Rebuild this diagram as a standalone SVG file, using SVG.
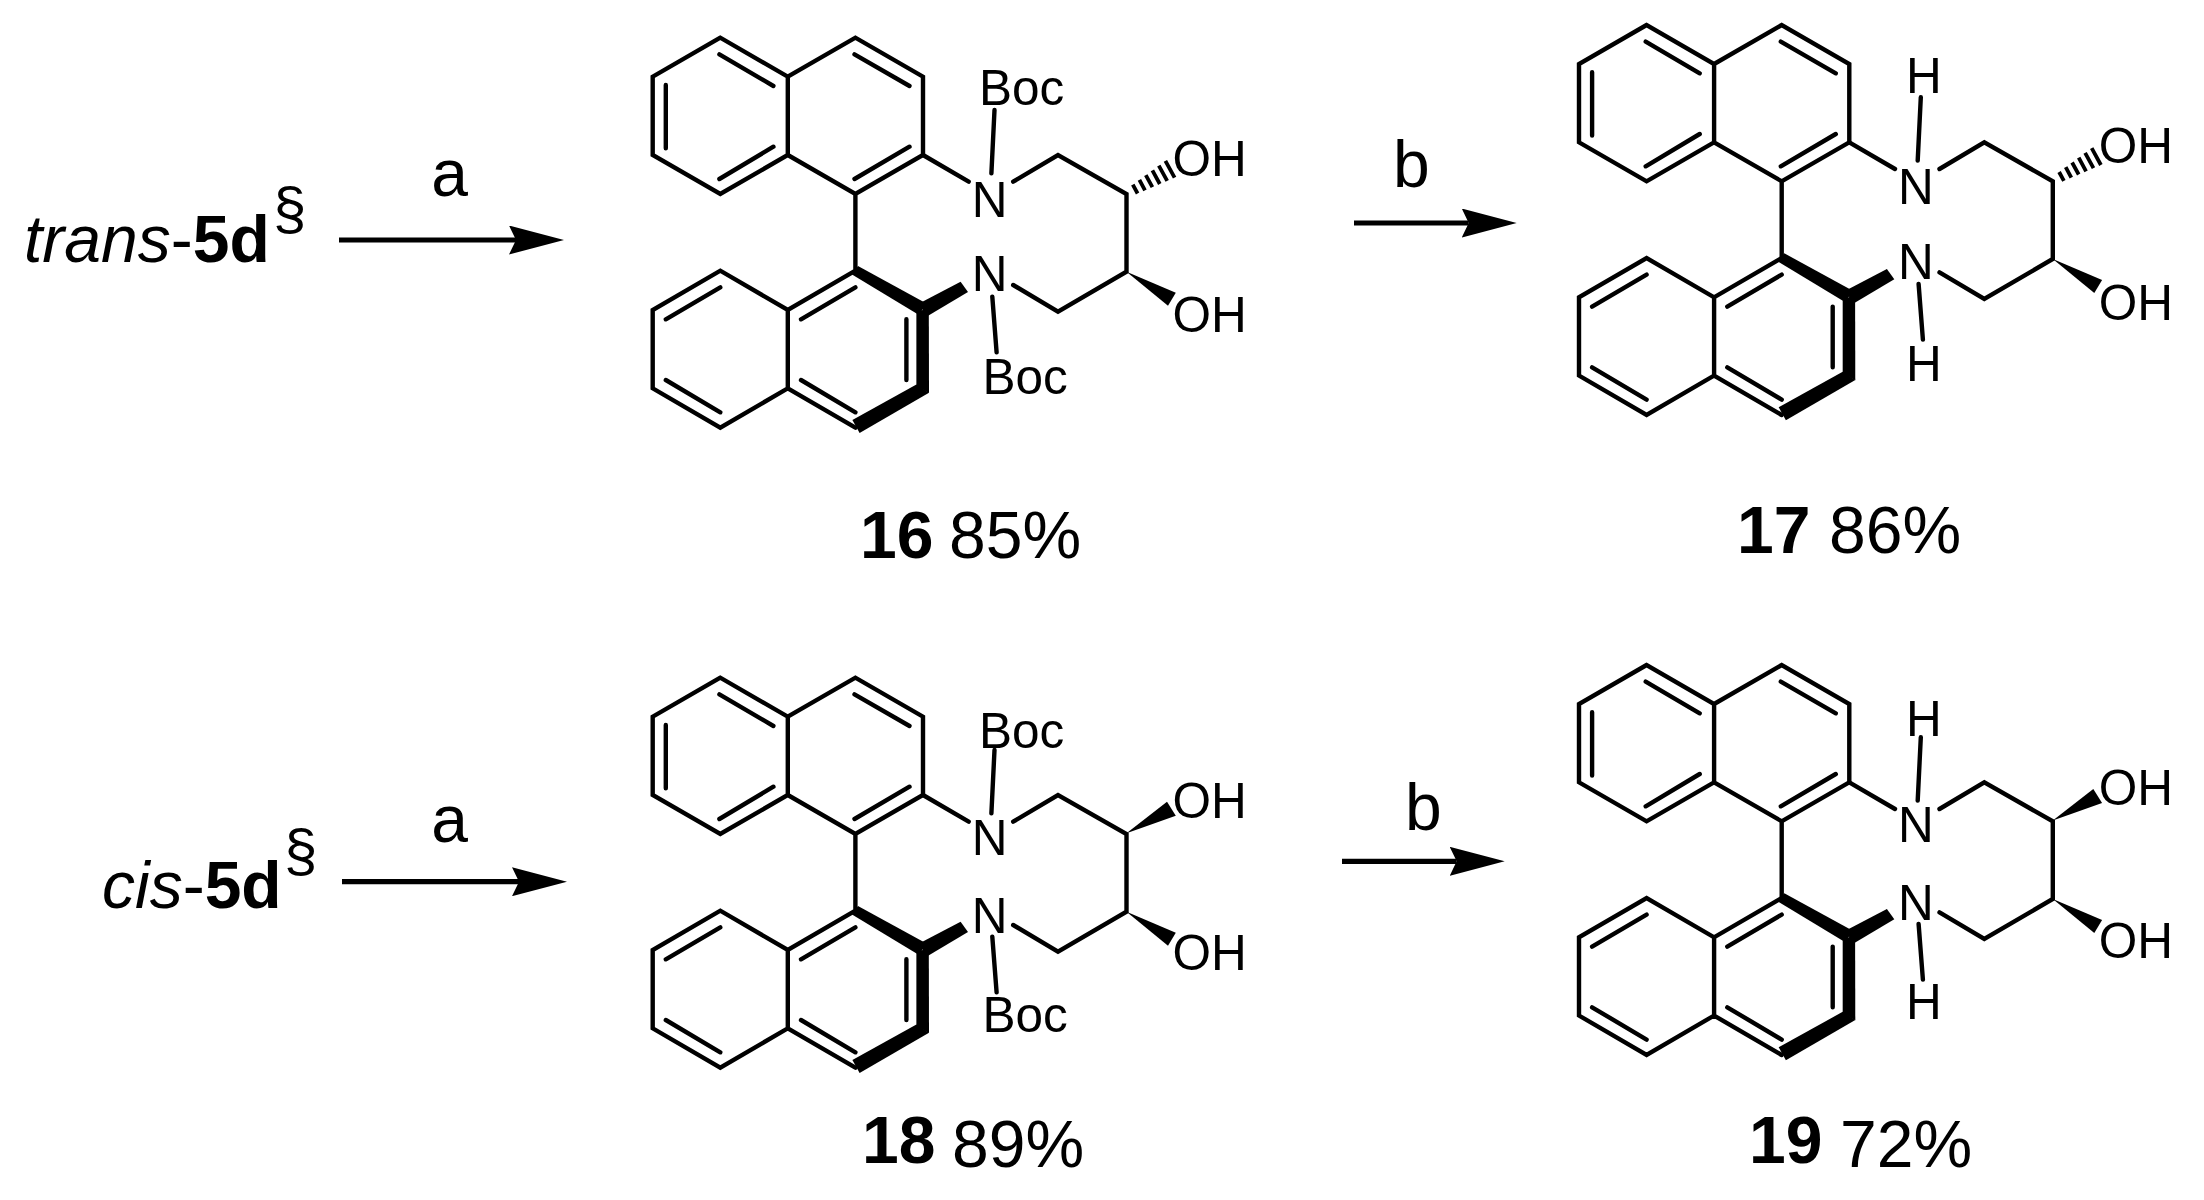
<svg xmlns="http://www.w3.org/2000/svg" xmlns:xlink="http://www.w3.org/1999/xlink" width="2204" height="1200" viewBox="0 0 2204 1200">
<style>
text{font-family:"Liberation Sans",Arial,sans-serif;fill:#000}
.a{font-size:49.5px}
.m{text-anchor:middle}
.t{font-size:66px}
.b{font-weight:bold}
.i{font-style:italic}
.s{font-size:60px}
.bond{fill:none;stroke:#000;stroke-width:4.4;stroke-linecap:round;stroke-linejoin:miter}
.hash{fill:none;stroke:#000;stroke-width:3.8}
.arrow{fill:none;stroke:#000;stroke-width:5.2;marker-end:url(#head)}
</style>
<defs>
<marker id="head" markerUnits="userSpaceOnUse" markerWidth="56" markerHeight="29" refX="7" refY="14.5" orient="auto"><path d="M0,0L55,14.5L0,29L7,14.5Z" fill="#000"/></marker>
<g id="core">
<path class="bond" d="M720.3,37.7L652.7,76.7V155L720.3,194L787.8,155V76.7ZM787.8,76.7L855.4,37.7L923,76.7V155L855.4,194L787.8,155M855.4,194V270.7M855.4,270.7L787.8,310L720.3,270.7L652.7,310V388.3L720.3,427.7L787.8,388.3V310M787.8,388.3L855.4,427.7"/>
<path class="bond" d="M665.8,85V148.3M719.4,54.3L773.4,86M719.4,179L773.4,146.7M854.5,54.3L909.5,86M854.5,179L909.5,146.7M665.8,319.3L720.3,287.3M665.8,380L720.3,412.3M801,319.3L855.4,287.3M801,380L855.4,412.3M906.4,319.3V380"/>
<path class="bond" d="M923,155L968.7,181.7M1013.2,181.7L1058,155L1126.5,194V271.7L1058,311.7L1013.2,285M994.5,110L991.4,173.3M992.3,296.7L996.6,352.3"/>
<polygon points="858,266 926.5,303.5 919,315 852,274.5"/>
<polygon points="920,303 960.6,281.7 968,292 926,317"/>
<polygon points="916.4,313 928.8,307 929,393 916.4,386"/>
<polygon points="929,392.7 859.6,433 852.4,420 916.4,384.5"/>
<polygon points="1126.5,271.7 1175.8,292.7 1168,305.7"/>
</g>
<g id="hashed"><path class="hash" d="M1132.8,184.7L1137.6,193.5M1139.4,179.9L1145,190.3M1145.8,175.2L1152.4,187.2M1152.4,170.4L1159.8,184M1158.8,165.6L1167.2,180.8M1165.4,160.9L1174.6,177.7"/></g>
<polygon id="wedge" points="1126.5,193.3 1167,161.7 1175.8,175.7"/>
</defs>
<rect width="2204" height="1200" fill="#fff"/>
<g id="connectors">
<line class="arrow" x1="339" y1="240" x2="516" y2="240"/>
<line class="arrow" x1="342" y1="881.7" x2="519" y2="881.7"/>
<line class="arrow" x1="1354" y1="223" x2="1468.7" y2="223"/>
<line class="arrow" x1="1342" y1="861.3" x2="1456.7" y2="861.3"/>
</g>
<g id="reagents">
<text class="t m" x="449.5" y="195.7">a</text>
<text class="t m" x="449.5" y="841.7">a</text>
<text class="t" x="1393" y="187.3">b</text>
<text class="t" x="1405" y="830">b</text>
</g>
<g id="start-trans">
<text class="t" x="24" y="261.7"><tspan class="i">trans</tspan>-<tspan class="b">5d</tspan></text>
<text class="s" x="273" y="229">§</text>
</g>
<g id="start-cis">
<text class="t" x="102" y="907.7"><tspan class="i">cis</tspan>-<tspan class="b">5d</tspan></text>
<text class="s" x="284" y="871">§</text>
</g>
<g id="mol16">
<use xlink:href="#core" href="#core"/><use xlink:href="#hashed" href="#hashed"/>
<text class="a m" x="989.7" y="216.5">N</text><text class="a m" x="989.7" y="290.5">N</text>
<text class="a" x="979" y="105">Boc</text><text class="a" x="982.5" y="393.5">Boc</text>
<text class="a" x="1172.5" y="176">OH</text><text class="a" x="1172.5" y="331.5">OH</text>
</g>
<g id="mol17" transform="translate(926.3,-12.7)">
<use xlink:href="#core" href="#core"/><use xlink:href="#hashed" href="#hashed"/>
<text class="a m" x="989.7" y="216.5">N</text><text class="a m" x="989.7" y="291.5">N</text>
<text class="a m" x="997.7" y="106">H</text><text class="a m" x="997.7" y="393.5">H</text>
<text class="a" x="1172.5" y="176">OH</text><text class="a" x="1172.5" y="333">OH</text>
</g>
<g id="mol18" transform="translate(0,640)">
<use xlink:href="#core" href="#core"/><use xlink:href="#wedge" href="#wedge"/>
<text class="a m" x="989.7" y="214.5">N</text><text class="a m" x="989.7" y="293">N</text>
<text class="a" x="979" y="107.5">Boc</text><text class="a" x="982.5" y="391.5">Boc</text>
<text class="a" x="1172.5" y="177.5">OH</text><text class="a" x="1172.5" y="330">OH</text>
</g>
<g id="mol19" transform="translate(926.3,627.3)">
<use xlink:href="#core" href="#core"/><use xlink:href="#wedge" href="#wedge"/>
<text class="a m" x="989.7" y="215">N</text><text class="a m" x="989.7" y="293">N</text>
<text class="a m" x="997.7" y="108.5">H</text><text class="a m" x="997.7" y="391.8">H</text>
<text class="a" x="1172.5" y="177.5">OH</text><text class="a" x="1172.5" y="331">OH</text>
</g>
<g id="yields">
<text class="t b" x="860" y="557.7">16</text><text class="t" x="949" y="557.7">85%</text>
<text class="t b" x="1737" y="553.3">17</text><text class="t" x="1829" y="553.3">86%</text>
<text class="t b" x="862" y="1162.7">18</text><text class="t" x="952" y="1166.7">89%</text>
<text class="t b" x="1749" y="1162.7">19</text><text class="t" x="1840" y="1166.7">72%</text>
</g>
</svg>
